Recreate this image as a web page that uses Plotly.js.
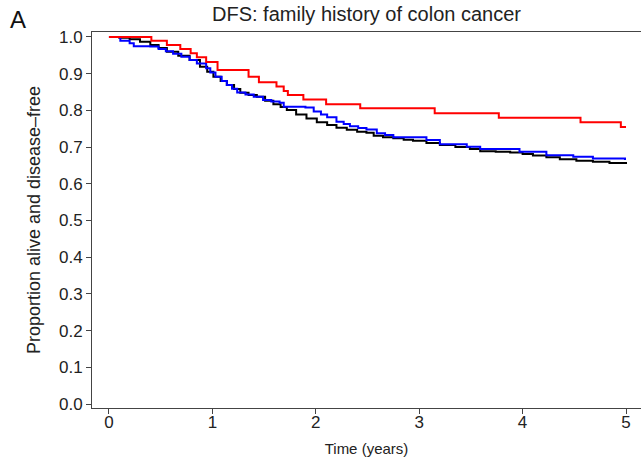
<!DOCTYPE html>
<html>
<head>
<meta charset="utf-8">
<script src="https://cdn.plot.ly/plotly-3.0.1.min.js"></script>
<style>html,body{margin:0;padding:0;background:#fff;}#chart{width:641px;height:461px;}</style>
</head>
<body>
<div id="chart"></div>
<script>
// Red group (fewest patients, step curve)
var redTime = [0, 0.41, 0.56, 0.69, 0.79, 0.85, 0.94, 1.05, 1.35, 1.45, 1.62, 1.69, 1.73, 1.88, 2.10, 2.43, 3.15, 3.77, 4.56, 4.95, 5.0];
var redSurv = [1.0, 0.990, 0.978, 0.967, 0.956, 0.945, 0.932, 0.910, 0.892, 0.877, 0.865, 0.853, 0.842, 0.830, 0.817, 0.806, 0.792, 0.780, 0.768, 0.755, 0.755];

// Black group
var blackTime = [0, 0.10, 0.20, 0.30, 0.40, 0.48, 0.56, 0.67, 0.78, 0.88, 0.95, 1.01, 1.08, 1.14, 1.21, 1.27, 1.35, 1.43, 1.51, 1.59, 1.66, 1.72, 1.81, 1.91, 2.01, 2.11, 2.20, 2.30, 2.40, 2.49, 2.56, 2.65, 2.75, 2.85, 2.94, 3.07, 3.20, 3.35, 3.49, 3.59, 3.74, 3.88, 4.00, 4.10, 4.23, 4.36, 4.52, 4.68, 4.84, 5.0];
var blackSurv = [1.0, 0.998, 0.994, 0.987, 0.978, 0.970, 0.960, 0.949, 0.937, 0.919, 0.905, 0.892, 0.880, 0.869, 0.858, 0.848, 0.842, 0.837, 0.826, 0.817, 0.809, 0.801, 0.789, 0.778, 0.768, 0.760, 0.753, 0.747, 0.742, 0.739, 0.731, 0.727, 0.724, 0.720, 0.717, 0.711, 0.706, 0.700, 0.695, 0.689, 0.687, 0.685, 0.681, 0.677, 0.672, 0.667, 0.663, 0.660, 0.657, 0.654];

// Blue group
var blueTime = [0, 0.11, 0.20, 0.24, 0.40, 0.48, 0.55, 0.62, 0.70, 0.78, 0.85, 0.94, 0.98, 1.03, 1.09, 1.14, 1.19, 1.24, 1.32, 1.40, 1.49, 1.57, 1.65, 1.69, 1.90, 1.98, 2.05, 2.11, 2.20, 2.27, 2.33, 2.41, 2.49, 2.59, 2.67, 2.75, 3.07, 3.20, 3.46, 3.59, 3.97, 4.23, 4.49, 4.68, 4.99];
var blueSurv = [1.0, 0.990, 0.983, 0.975, 0.974, 0.967, 0.961, 0.954, 0.946, 0.937, 0.928, 0.915, 0.903, 0.892, 0.880, 0.869, 0.859, 0.849, 0.843, 0.837, 0.828, 0.824, 0.821, 0.810, 0.808, 0.797, 0.789, 0.781, 0.769, 0.763, 0.757, 0.752, 0.748, 0.738, 0.733, 0.727, 0.719, 0.708, 0.701, 0.695, 0.687, 0.678, 0.674, 0.669, 0.665];

var xTicks = [0, 1, 2, 3, 4, 5];
var yTicks = [0, 0.1, 0.2, 0.3, 0.4, 0.5, 0.6, 0.7, 0.8, 0.9, 1.0];

var traces = [
  {x: blackTime, y: blackSurv, type: 'scatter', mode: 'lines', line: {color: '#000000', width: 2, shape: 'hv'}, hoverinfo: 'skip'},
  {x: blueTime, y: blueSurv, type: 'scatter', mode: 'lines', line: {color: '#0000ff', width: 2, shape: 'hv'}, hoverinfo: 'skip'},
  {x: redTime, y: redSurv, type: 'scatter', mode: 'lines', line: {color: '#ff0000', width: 2, shape: 'hv'}, hoverinfo: 'skip'}
];

var fontFam = 'Liberation Sans, Arial, Helvetica, sans-serif';
var layout = {
  width: 641, height: 461,
  margin: {l: 92, r: 0, t: 32, b: 53},
  paper_bgcolor: '#ffffff', plot_bgcolor: '#ffffff',
  showlegend: false,
  font: {family: fontFam, color: '#222222'},
  title: {text: 'DFS: family history of colon cancer', font: {size: 20, color: '#222222', family: fontFam}, x: 0.5, xref: 'paper', xanchor: 'center', y: 0.97, yanchor: 'middle'},
  xaxis: {
    range: [-0.164, 5.145], tickvals: xTicks, ticktext: xTicks.map(String),
    showgrid: false, zeroline: false, showline: true, linecolor: '#444444', linewidth: 1,
    mirror: true, ticks: 'outside', ticklen: 5, tickcolor: '#444444',
    tickfont: {size: 17, color: '#222222'}, ticklabelstandoff: -6,
    title: {text: 'Time (years)', font: {size: 15, color: '#222222'}, standoff: 12}
  },
  yaxis: {
    range: [-0.0109, 1.0136], tickvals: yTicks, ticktext: yTicks.map(function(v){return v.toFixed(1);}),
    showgrid: false, zeroline: false, showline: true, linecolor: '#444444', linewidth: 1,
    ticks: 'outside', ticklen: 5, tickcolor: '#444444',
    tickfont: {size: 17, color: '#222222'},
    title: {text: 'Proportion alive and disease\u2013free', font: {size: 18, color: '#222222'}, standoff: 13}
  },
  annotations: [
    {text: 'A', xref: 'paper', yref: 'paper', x: -0.153, y: 1.032, xanchor: 'left', yanchor: 'middle', showarrow: false, font: {size: 24, color: '#111111', family: fontFam}}
  ]
};
Plotly.newPlot('chart', traces, layout, {displayModeBar: false, staticPlot: true});
</script>
</body>
</html>
